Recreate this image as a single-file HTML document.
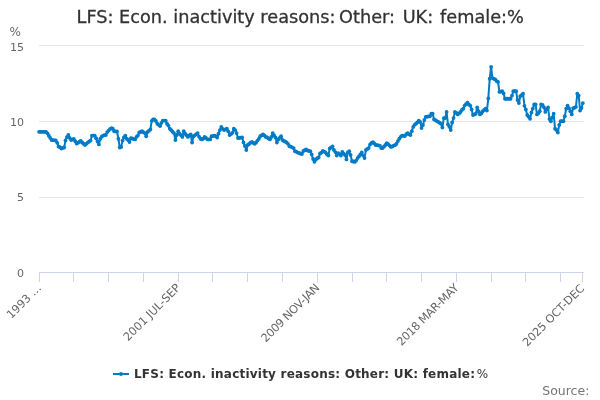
<!DOCTYPE html>
<html><head><meta charset="utf-8"><title>LFS chart</title>
<style>
html,body{margin:0;padding:0;background:#fff;}
body{width:600px;height:400px;overflow:hidden;font-family:"DejaVu Sans", "Liberation Sans", Verdana, sans-serif;}
svg{display:block;will-change:transform;font-family:"DejaVu Sans", "Liberation Sans", Verdana, sans-serif;}
</style></head><body>
<svg width="600" height="400" viewBox="0 0 600 400">
<rect width="600" height="400" fill="#fff"/>
<g stroke="#e6e6e6" stroke-width="1" fill="none">
<path d="M39 45.5H584M39 121.5H584M39 197.5H584"/>
</g>
<path d="M39 272.5H584" stroke="#ccd6eb" stroke-width="1" fill="none"/>
<path d="M39.5 272 V282M73.5 272 V282M108.5 272 V282M143.5 272 V282M178.5 272 V282M212.5 272 V282M247.5 272 V282M282.5 272 V282M317.5 272 V282M352.5 272 V282M386.5 272 V282M421.5 272 V282M456.5 272 V282M491.5 272 V282M525.5 272 V282M560.5 272 V282M582.5 272 V282" stroke="#ccd6eb" stroke-width="1" fill="none"/>
<text x="300.2" y="23.3" text-anchor="middle" font-size="17.72" fill="#333" stroke="#333" stroke-width="0.3">LFS: Econ. inactivity reasons: <tspan dx="-2">Other:</tspan> <tspan dx="2">UK:</tspan> <tspan dx="1.2">female:%</tspan></text>
<text x="9.4" y="36" font-size="12" fill="#666">%</text>
<g font-size="11" fill="#666" text-anchor="end">
<text x="24" y="51">15</text><text x="24" y="126.2">10</text><text x="24" y="201.2">5</text><text x="24" y="277.3">0</text>
</g>
<text x="42.1" y="288.4" text-anchor="end" transform="rotate(-45 42.1 288.4)" font-size="11.3" fill="#666">1993 …</text><text x="181.2" y="288.4" text-anchor="end" transform="rotate(-45 181.2 288.4)" font-size="11.3" fill="#666">2001 JUL-SEP</text><text x="320.2" y="288.4" text-anchor="end" transform="rotate(-45 320.2 288.4)" font-size="11.3" fill="#666" textLength="76.9" lengthAdjust="spacing">2009 NOV-JAN</text><text x="459.3" y="288.4" text-anchor="end" transform="rotate(-45 459.3 288.4)" font-size="11.3" fill="#666" textLength="81.8" lengthAdjust="spacing">2018 MAR-MAY</text><text x="585.0" y="289.2" text-anchor="end" transform="rotate(-45 585.0 289.2)" font-size="11.3" fill="#666" textLength="81.6" lengthAdjust="spacing">2025 OCT-DEC</text>
<g>
<path d="M39.1 131.8 L40.49 131.8 L41.88 131.8 L43.27 131.8 L44.66 131.8 L46.05 131.8 L47.44 133.35 L48.83 135.63 L50.23 137.91 L51.62 140 L53.01 140.17 L54.4 140.32 L55.79 140.5 L57.18 142.86 L58.57 146.5 L59.96 147.27 L61.35 148.5 L62.74 147.88 L64.13 147.5 L65.52 140.5 L66.91 137.12 L68.3 135 L69.7 137.96 L71.09 140 L72.48 139.41 L73.87 139 L75.26 141.26 L76.65 143.5 L78.04 142.76 L79.43 141.76 L80.82 141 L82.21 142.52 L83.6 143.76 L84.99 145 L86.38 143.79 L87.77 142.57 L89.17 141.5 L90.56 140.6 L91.95 135.6 L93.34 135.6 L94.73 135.6 L96.12 138.23 L97.51 141.49 L98.9 144.4 L100.29 138.75 L101.68 136.63 L103.07 135.6 L104.46 135.22 L105.85 135 L107.24 132.11 L108.63 130.6 L110.03 129.07 L111.42 128.1 L112.81 128.75 L114.2 131.25 L115.59 131.4 L116.98 131.5 L118.37 138.75 L119.76 147.5 L121.15 146.9 L122.54 140.6 L123.93 137.42 L125.32 135.6 L126.71 138.74 L128.1 140 L129.5 142.1 L130.89 138.1 L132.28 138.52 L133.67 139.1 L135.06 139.4 L136.45 136.89 L137.84 135.6 L139.23 132.5 L140.62 132.01 L142.01 131.25 L143.4 132.13 L144.79 133.1 L146.18 136.25 L147.57 131.9 L148.97 130.76 L150.36 129.4 L151.75 120.89 L153.14 119.4 L154.53 119.4 L155.92 121.0 L157.31 123.75 L158.7 124.83 L160.09 126.0 L161.48 122.8 L162.87 120.6 L164.26 120.6 L165.65 120.6 L167.04 123.75 L168.44 125.62 L169.83 128.75 L171.22 130.16 L172.61 131.77 L174.0 133.1 L175.39 140 L176.78 135 L178.17 131.25 L179.56 133.75 L180.95 135.08 L182.34 136.9 L183.73 131.25 L185.12 133.75 L186.51 135.27 L187.9 136.9 L189.3 135.45 L190.69 134.4 L192.08 142.5 L193.47 136.25 L194.86 135.32 L196.25 134.15 L197.64 133.1 L199.03 136.56 L200.42 138.75 L201.81 139.4 L203.2 138.7 L204.59 136.9 L205.98 137.88 L207.37 139.4 L208.77 139.4 L210.16 139.4 L211.55 136.25 L212.94 136.03 L214.33 135.6 L215.72 136.21 L217.11 137.5 L218.5 133.75 L219.89 130.11 L221.28 126.9 L222.67 128.83 L224.06 130 L225.45 129.32 L226.84 128.75 L228.24 131.44 L229.63 135 L231.02 134.11 L232.41 132.8 L233.8 128.75 L235.19 130.12 L236.58 133.1 L237.97 138.1 L239.36 137.9 L240.75 137.68 L242.14 137.5 L243.53 142.5 L244.92 146.02 L246.31 150 L247.71 145 L249.1 144.02 L250.49 142.65 L251.88 141.9 L253.27 142.9 L254.66 143.75 L256.05 142.68 L257.44 140.6 L258.83 138.93 L260.22 136.25 L261.61 135.29 L263.0 134.4 L264.39 135.43 L265.78 136.9 L267.17 137.52 L268.57 138.44 L269.96 139.4 L271.35 136.9 L272.74 133.1 L274.13 135.48 L275.52 137.5 L276.91 142.5 L278.3 139.4 L279.69 137.8 L281.08 136.25 L282.47 140 L283.86 140.98 L285.25 141.68 L286.64 142.5 L288.04 143.87 L289.43 146.25 L290.82 146.65 L292.21 147.34 L293.6 148.1 L294.99 151.25 L296.38 151.72 L297.77 152.56 L299.16 153 L300.55 153.68 L301.94 154 L303.33 151 L304.72 150.27 L306.11 149.5 L307.51 150.4 L308.9 151 L310.29 151.2 L311.68 154.5 L313.07 159 L314.46 161.8 L315.85 159.5 L317.24 158.26 L318.63 157.5 L320.02 153.5 L321.41 152.59 L322.8 151 L324.19 151.72 L325.58 152.5 L326.97 154.27 L328.37 155.5 L329.76 148.4 L331.15 147.43 L332.54 146.4 L333.93 150 L335.32 152.06 L336.71 155.6 L338.1 153.1 L339.49 154.1 L340.88 155.6 L342.27 151.9 L343.66 153.66 L345.05 155 L346.44 159.4 L347.84 152.5 L349.23 151.25 L350.62 155 L352.01 161.25 L353.4 161.48 L354.79 161.9 L356.18 160.45 L357.57 158.1 L358.96 156.42 L360.35 154.4 L361.74 152.5 L363.13 155.6 L364.52 158.1 L365.91 150 L367.31 148.92 L368.7 148.1 L370.09 144.4 L371.48 142.91 L372.87 142.1 L374.26 143.42 L375.65 145 L377.04 145.15 L378.43 145.42 L379.82 145.6 L381.21 148.1 L382.6 148.1 L383.99 146.64 L385.38 145 L386.78 143.1 L388.17 144.16 L389.56 145.6 L390.95 146.9 L392.34 146.45 L393.73 145.6 L395.12 145.07 L396.51 143.75 L397.9 141.05 L399.29 138.75 L400.68 136.82 L402.07 135.6 L403.46 135.85 L404.85 136 L406.24 134.27 L407.64 133.1 L409.03 134.26 L410.42 135 L411.81 131.25 L413.2 126.9 L414.59 124.87 L415.98 123.75 L417.37 122.28 L418.76 120.6 L420.15 121.88 L421.54 128.1 L422.93 125 L424.32 120 L425.71 116.9 L427.11 116.68 L428.5 116.47 L429.89 116.25 L431.28 113.75 L432.67 113.75 L434.06 119.4 L435.45 120.11 L436.84 121.05 L438.23 121.9 L439.62 122.73 L441.01 123.75 L442.4 127.5 L443.79 118.1 L445.18 118.1 L446.58 111.9 L447.97 124.4 L449.36 126.83 L450.75 130 L452.14 122.5 L453.53 118.1 L454.92 111.9 L456.31 112.96 L457.7 114.4 L459.09 113.41 L460.48 112.02 L461.87 110 L463.26 108.66 L464.65 105.6 L466.04 104.03 L467.44 102.75 L468.83 104.52 L470.22 105.6 L471.61 109.4 L473.0 115 L474.39 114.47 L475.78 113.75 L477.17 107.5 L478.56 111.25 L479.95 114.4 L481.34 113.46 L482.73 111.25 L484.12 109.9 L485.51 108.75 L486.91 110.6 L488.3 98.4 L489.69 78.75 L491.08 66.9 L492.47 78.1 L493.86 78.81 L495.25 79.4 L496.64 81.04 L498.03 81.9 L499.42 91.9 L500.81 91.6 L502.2 91.25 L503.59 93.41 L504.98 98.75 L506.38 98.75 L507.77 98.75 L509.16 98.75 L510.55 98.75 L511.94 95.6 L513.33 91.25 L514.72 91.25 L516.11 91.25 L517.5 100 L518.89 103.0 L520.28 96.25 L521.67 95.18 L523.06 93.75 L524.45 105.81 L525.85 109.4 L527.24 115 L528.63 116.69 L530.02 118.75 L531.41 112.5 L532.8 108.57 L534.19 104.4 L535.58 104.4 L536.97 114.4 L538.36 113.13 L539.75 111.25 L541.14 104.4 L542.53 105 L543.92 107.27 L545.31 111.9 L546.71 109.34 L548.1 107.5 L549.49 119.03 L550.88 121.25 L552.27 117.5 L553.66 113.75 L555.05 128.75 L556.44 130.01 L557.83 132.5 L559.22 125 L560.61 121.25 L562.0 121.25 L563.39 121.25 L564.78 116.25 L566.18 108.75 L567.57 105.6 L568.96 108.15 L570.35 111.25 L571.74 114.4 L573.13 108.1 L574.52 107.73 L575.91 106.9 L577.3 93.75 L578.69 95.57 L580.08 110.6 L581.47 107.98 L582.86 103.1" fill="none" stroke="#007bc6" stroke-width="2" stroke-linejoin="round" stroke-linecap="round"/>
<g fill="#007bc6"><circle cx="39.1" cy="131.8" r="1.9"/><circle cx="40.49" cy="131.8" r="1.9"/><circle cx="41.88" cy="131.8" r="1.9"/><circle cx="43.27" cy="131.8" r="1.9"/><circle cx="44.66" cy="131.8" r="1.9"/><circle cx="46.05" cy="131.8" r="1.9"/><circle cx="47.44" cy="133.35" r="1.9"/><circle cx="48.83" cy="135.63" r="1.9"/><circle cx="50.23" cy="137.91" r="1.9"/><circle cx="51.62" cy="140" r="1.9"/><circle cx="53.01" cy="140.17" r="1.9"/><circle cx="54.4" cy="140.32" r="1.9"/><circle cx="55.79" cy="140.5" r="1.9"/><circle cx="57.18" cy="142.86" r="1.9"/><circle cx="58.57" cy="146.5" r="1.9"/><circle cx="59.96" cy="147.27" r="1.9"/><circle cx="61.35" cy="148.5" r="1.9"/><circle cx="62.74" cy="147.88" r="1.9"/><circle cx="64.13" cy="147.5" r="1.9"/><circle cx="65.52" cy="140.5" r="1.9"/><circle cx="66.91" cy="137.12" r="1.9"/><circle cx="68.3" cy="135" r="1.9"/><circle cx="69.7" cy="137.96" r="1.9"/><circle cx="71.09" cy="140" r="1.9"/><circle cx="72.48" cy="139.41" r="1.9"/><circle cx="73.87" cy="139" r="1.9"/><circle cx="75.26" cy="141.26" r="1.9"/><circle cx="76.65" cy="143.5" r="1.9"/><circle cx="78.04" cy="142.76" r="1.9"/><circle cx="79.43" cy="141.76" r="1.9"/><circle cx="80.82" cy="141" r="1.9"/><circle cx="82.21" cy="142.52" r="1.9"/><circle cx="83.6" cy="143.76" r="1.9"/><circle cx="84.99" cy="145" r="1.9"/><circle cx="86.38" cy="143.79" r="1.9"/><circle cx="87.77" cy="142.57" r="1.9"/><circle cx="89.17" cy="141.5" r="1.9"/><circle cx="90.56" cy="140.6" r="1.9"/><circle cx="91.95" cy="135.6" r="1.9"/><circle cx="93.34" cy="135.6" r="1.9"/><circle cx="94.73" cy="135.6" r="1.9"/><circle cx="96.12" cy="138.23" r="1.9"/><circle cx="97.51" cy="141.49" r="1.9"/><circle cx="98.9" cy="144.4" r="1.9"/><circle cx="100.29" cy="138.75" r="1.9"/><circle cx="101.68" cy="136.63" r="1.9"/><circle cx="103.07" cy="135.6" r="1.9"/><circle cx="104.46" cy="135.22" r="1.9"/><circle cx="105.85" cy="135" r="1.9"/><circle cx="107.24" cy="132.11" r="1.9"/><circle cx="108.63" cy="130.6" r="1.9"/><circle cx="110.03" cy="129.07" r="1.9"/><circle cx="111.42" cy="128.1" r="1.9"/><circle cx="112.81" cy="128.75" r="1.9"/><circle cx="114.2" cy="131.25" r="1.9"/><circle cx="115.59" cy="131.4" r="1.9"/><circle cx="116.98" cy="131.5" r="1.9"/><circle cx="118.37" cy="138.75" r="1.9"/><circle cx="119.76" cy="147.5" r="1.9"/><circle cx="121.15" cy="146.9" r="1.9"/><circle cx="122.54" cy="140.6" r="1.9"/><circle cx="123.93" cy="137.42" r="1.9"/><circle cx="125.32" cy="135.6" r="1.9"/><circle cx="126.71" cy="138.74" r="1.9"/><circle cx="128.1" cy="140" r="1.9"/><circle cx="129.5" cy="142.1" r="1.9"/><circle cx="130.89" cy="138.1" r="1.9"/><circle cx="132.28" cy="138.52" r="1.9"/><circle cx="133.67" cy="139.1" r="1.9"/><circle cx="135.06" cy="139.4" r="1.9"/><circle cx="136.45" cy="136.89" r="1.9"/><circle cx="137.84" cy="135.6" r="1.9"/><circle cx="139.23" cy="132.5" r="1.9"/><circle cx="140.62" cy="132.01" r="1.9"/><circle cx="142.01" cy="131.25" r="1.9"/><circle cx="143.4" cy="132.13" r="1.9"/><circle cx="144.79" cy="133.1" r="1.9"/><circle cx="146.18" cy="136.25" r="1.9"/><circle cx="147.57" cy="131.9" r="1.9"/><circle cx="148.97" cy="130.76" r="1.9"/><circle cx="150.36" cy="129.4" r="1.9"/><circle cx="151.75" cy="120.89" r="1.9"/><circle cx="153.14" cy="119.4" r="1.9"/><circle cx="154.53" cy="119.4" r="1.9"/><circle cx="155.92" cy="121.0" r="1.9"/><circle cx="157.31" cy="123.75" r="1.9"/><circle cx="158.7" cy="124.83" r="1.9"/><circle cx="160.09" cy="126.0" r="1.9"/><circle cx="161.48" cy="122.8" r="1.9"/><circle cx="162.87" cy="120.6" r="1.9"/><circle cx="164.26" cy="120.6" r="1.9"/><circle cx="165.65" cy="120.6" r="1.9"/><circle cx="167.04" cy="123.75" r="1.9"/><circle cx="168.44" cy="125.62" r="1.9"/><circle cx="169.83" cy="128.75" r="1.9"/><circle cx="171.22" cy="130.16" r="1.9"/><circle cx="172.61" cy="131.77" r="1.9"/><circle cx="174.0" cy="133.1" r="1.9"/><circle cx="175.39" cy="140" r="1.9"/><circle cx="176.78" cy="135" r="1.9"/><circle cx="178.17" cy="131.25" r="1.9"/><circle cx="179.56" cy="133.75" r="1.9"/><circle cx="180.95" cy="135.08" r="1.9"/><circle cx="182.34" cy="136.9" r="1.9"/><circle cx="183.73" cy="131.25" r="1.9"/><circle cx="185.12" cy="133.75" r="1.9"/><circle cx="186.51" cy="135.27" r="1.9"/><circle cx="187.9" cy="136.9" r="1.9"/><circle cx="189.3" cy="135.45" r="1.9"/><circle cx="190.69" cy="134.4" r="1.9"/><circle cx="192.08" cy="142.5" r="1.9"/><circle cx="193.47" cy="136.25" r="1.9"/><circle cx="194.86" cy="135.32" r="1.9"/><circle cx="196.25" cy="134.15" r="1.9"/><circle cx="197.64" cy="133.1" r="1.9"/><circle cx="199.03" cy="136.56" r="1.9"/><circle cx="200.42" cy="138.75" r="1.9"/><circle cx="201.81" cy="139.4" r="1.9"/><circle cx="203.2" cy="138.7" r="1.9"/><circle cx="204.59" cy="136.9" r="1.9"/><circle cx="205.98" cy="137.88" r="1.9"/><circle cx="207.37" cy="139.4" r="1.9"/><circle cx="208.77" cy="139.4" r="1.9"/><circle cx="210.16" cy="139.4" r="1.9"/><circle cx="211.55" cy="136.25" r="1.9"/><circle cx="212.94" cy="136.03" r="1.9"/><circle cx="214.33" cy="135.6" r="1.9"/><circle cx="215.72" cy="136.21" r="1.9"/><circle cx="217.11" cy="137.5" r="1.9"/><circle cx="218.5" cy="133.75" r="1.9"/><circle cx="219.89" cy="130.11" r="1.9"/><circle cx="221.28" cy="126.9" r="1.9"/><circle cx="222.67" cy="128.83" r="1.9"/><circle cx="224.06" cy="130" r="1.9"/><circle cx="225.45" cy="129.32" r="1.9"/><circle cx="226.84" cy="128.75" r="1.9"/><circle cx="228.24" cy="131.44" r="1.9"/><circle cx="229.63" cy="135" r="1.9"/><circle cx="231.02" cy="134.11" r="1.9"/><circle cx="232.41" cy="132.8" r="1.9"/><circle cx="233.8" cy="128.75" r="1.9"/><circle cx="235.19" cy="130.12" r="1.9"/><circle cx="236.58" cy="133.1" r="1.9"/><circle cx="237.97" cy="138.1" r="1.9"/><circle cx="239.36" cy="137.9" r="1.9"/><circle cx="240.75" cy="137.68" r="1.9"/><circle cx="242.14" cy="137.5" r="1.9"/><circle cx="243.53" cy="142.5" r="1.9"/><circle cx="244.92" cy="146.02" r="1.9"/><circle cx="246.31" cy="150" r="1.9"/><circle cx="247.71" cy="145" r="1.9"/><circle cx="249.1" cy="144.02" r="1.9"/><circle cx="250.49" cy="142.65" r="1.9"/><circle cx="251.88" cy="141.9" r="1.9"/><circle cx="253.27" cy="142.9" r="1.9"/><circle cx="254.66" cy="143.75" r="1.9"/><circle cx="256.05" cy="142.68" r="1.9"/><circle cx="257.44" cy="140.6" r="1.9"/><circle cx="258.83" cy="138.93" r="1.9"/><circle cx="260.22" cy="136.25" r="1.9"/><circle cx="261.61" cy="135.29" r="1.9"/><circle cx="263.0" cy="134.4" r="1.9"/><circle cx="264.39" cy="135.43" r="1.9"/><circle cx="265.78" cy="136.9" r="1.9"/><circle cx="267.17" cy="137.52" r="1.9"/><circle cx="268.57" cy="138.44" r="1.9"/><circle cx="269.96" cy="139.4" r="1.9"/><circle cx="271.35" cy="136.9" r="1.9"/><circle cx="272.74" cy="133.1" r="1.9"/><circle cx="274.13" cy="135.48" r="1.9"/><circle cx="275.52" cy="137.5" r="1.9"/><circle cx="276.91" cy="142.5" r="1.9"/><circle cx="278.3" cy="139.4" r="1.9"/><circle cx="279.69" cy="137.8" r="1.9"/><circle cx="281.08" cy="136.25" r="1.9"/><circle cx="282.47" cy="140" r="1.9"/><circle cx="283.86" cy="140.98" r="1.9"/><circle cx="285.25" cy="141.68" r="1.9"/><circle cx="286.64" cy="142.5" r="1.9"/><circle cx="288.04" cy="143.87" r="1.9"/><circle cx="289.43" cy="146.25" r="1.9"/><circle cx="290.82" cy="146.65" r="1.9"/><circle cx="292.21" cy="147.34" r="1.9"/><circle cx="293.6" cy="148.1" r="1.9"/><circle cx="294.99" cy="151.25" r="1.9"/><circle cx="296.38" cy="151.72" r="1.9"/><circle cx="297.77" cy="152.56" r="1.9"/><circle cx="299.16" cy="153" r="1.9"/><circle cx="300.55" cy="153.68" r="1.9"/><circle cx="301.94" cy="154" r="1.9"/><circle cx="303.33" cy="151" r="1.9"/><circle cx="304.72" cy="150.27" r="1.9"/><circle cx="306.11" cy="149.5" r="1.9"/><circle cx="307.51" cy="150.4" r="1.9"/><circle cx="308.9" cy="151" r="1.9"/><circle cx="310.29" cy="151.2" r="1.9"/><circle cx="311.68" cy="154.5" r="1.9"/><circle cx="313.07" cy="159" r="1.9"/><circle cx="314.46" cy="161.8" r="1.9"/><circle cx="315.85" cy="159.5" r="1.9"/><circle cx="317.24" cy="158.26" r="1.9"/><circle cx="318.63" cy="157.5" r="1.9"/><circle cx="320.02" cy="153.5" r="1.9"/><circle cx="321.41" cy="152.59" r="1.9"/><circle cx="322.8" cy="151" r="1.9"/><circle cx="324.19" cy="151.72" r="1.9"/><circle cx="325.58" cy="152.5" r="1.9"/><circle cx="326.97" cy="154.27" r="1.9"/><circle cx="328.37" cy="155.5" r="1.9"/><circle cx="329.76" cy="148.4" r="1.9"/><circle cx="331.15" cy="147.43" r="1.9"/><circle cx="332.54" cy="146.4" r="1.9"/><circle cx="333.93" cy="150" r="1.9"/><circle cx="335.32" cy="152.06" r="1.9"/><circle cx="336.71" cy="155.6" r="1.9"/><circle cx="338.1" cy="153.1" r="1.9"/><circle cx="339.49" cy="154.1" r="1.9"/><circle cx="340.88" cy="155.6" r="1.9"/><circle cx="342.27" cy="151.9" r="1.9"/><circle cx="343.66" cy="153.66" r="1.9"/><circle cx="345.05" cy="155" r="1.9"/><circle cx="346.44" cy="159.4" r="1.9"/><circle cx="347.84" cy="152.5" r="1.9"/><circle cx="349.23" cy="151.25" r="1.9"/><circle cx="350.62" cy="155" r="1.9"/><circle cx="352.01" cy="161.25" r="1.9"/><circle cx="353.4" cy="161.48" r="1.9"/><circle cx="354.79" cy="161.9" r="1.9"/><circle cx="356.18" cy="160.45" r="1.9"/><circle cx="357.57" cy="158.1" r="1.9"/><circle cx="358.96" cy="156.42" r="1.9"/><circle cx="360.35" cy="154.4" r="1.9"/><circle cx="361.74" cy="152.5" r="1.9"/><circle cx="363.13" cy="155.6" r="1.9"/><circle cx="364.52" cy="158.1" r="1.9"/><circle cx="365.91" cy="150" r="1.9"/><circle cx="367.31" cy="148.92" r="1.9"/><circle cx="368.7" cy="148.1" r="1.9"/><circle cx="370.09" cy="144.4" r="1.9"/><circle cx="371.48" cy="142.91" r="1.9"/><circle cx="372.87" cy="142.1" r="1.9"/><circle cx="374.26" cy="143.42" r="1.9"/><circle cx="375.65" cy="145" r="1.9"/><circle cx="377.04" cy="145.15" r="1.9"/><circle cx="378.43" cy="145.42" r="1.9"/><circle cx="379.82" cy="145.6" r="1.9"/><circle cx="381.21" cy="148.1" r="1.9"/><circle cx="382.6" cy="148.1" r="1.9"/><circle cx="383.99" cy="146.64" r="1.9"/><circle cx="385.38" cy="145" r="1.9"/><circle cx="386.78" cy="143.1" r="1.9"/><circle cx="388.17" cy="144.16" r="1.9"/><circle cx="389.56" cy="145.6" r="1.9"/><circle cx="390.95" cy="146.9" r="1.9"/><circle cx="392.34" cy="146.45" r="1.9"/><circle cx="393.73" cy="145.6" r="1.9"/><circle cx="395.12" cy="145.07" r="1.9"/><circle cx="396.51" cy="143.75" r="1.9"/><circle cx="397.9" cy="141.05" r="1.9"/><circle cx="399.29" cy="138.75" r="1.9"/><circle cx="400.68" cy="136.82" r="1.9"/><circle cx="402.07" cy="135.6" r="1.9"/><circle cx="403.46" cy="135.85" r="1.9"/><circle cx="404.85" cy="136" r="1.9"/><circle cx="406.24" cy="134.27" r="1.9"/><circle cx="407.64" cy="133.1" r="1.9"/><circle cx="409.03" cy="134.26" r="1.9"/><circle cx="410.42" cy="135" r="1.9"/><circle cx="411.81" cy="131.25" r="1.9"/><circle cx="413.2" cy="126.9" r="1.9"/><circle cx="414.59" cy="124.87" r="1.9"/><circle cx="415.98" cy="123.75" r="1.9"/><circle cx="417.37" cy="122.28" r="1.9"/><circle cx="418.76" cy="120.6" r="1.9"/><circle cx="420.15" cy="121.88" r="1.9"/><circle cx="421.54" cy="128.1" r="1.9"/><circle cx="422.93" cy="125" r="1.9"/><circle cx="424.32" cy="120" r="1.9"/><circle cx="425.71" cy="116.9" r="1.9"/><circle cx="427.11" cy="116.68" r="1.9"/><circle cx="428.5" cy="116.47" r="1.9"/><circle cx="429.89" cy="116.25" r="1.9"/><circle cx="431.28" cy="113.75" r="1.9"/><circle cx="432.67" cy="113.75" r="1.9"/><circle cx="434.06" cy="119.4" r="1.9"/><circle cx="435.45" cy="120.11" r="1.9"/><circle cx="436.84" cy="121.05" r="1.9"/><circle cx="438.23" cy="121.9" r="1.9"/><circle cx="439.62" cy="122.73" r="1.9"/><circle cx="441.01" cy="123.75" r="1.9"/><circle cx="442.4" cy="127.5" r="1.9"/><circle cx="443.79" cy="118.1" r="1.9"/><circle cx="445.18" cy="118.1" r="1.9"/><circle cx="446.58" cy="111.9" r="1.9"/><circle cx="447.97" cy="124.4" r="1.9"/><circle cx="449.36" cy="126.83" r="1.9"/><circle cx="450.75" cy="130" r="1.9"/><circle cx="452.14" cy="122.5" r="1.9"/><circle cx="453.53" cy="118.1" r="1.9"/><circle cx="454.92" cy="111.9" r="1.9"/><circle cx="456.31" cy="112.96" r="1.9"/><circle cx="457.7" cy="114.4" r="1.9"/><circle cx="459.09" cy="113.41" r="1.9"/><circle cx="460.48" cy="112.02" r="1.9"/><circle cx="461.87" cy="110" r="1.9"/><circle cx="463.26" cy="108.66" r="1.9"/><circle cx="464.65" cy="105.6" r="1.9"/><circle cx="466.04" cy="104.03" r="1.9"/><circle cx="467.44" cy="102.75" r="1.9"/><circle cx="468.83" cy="104.52" r="1.9"/><circle cx="470.22" cy="105.6" r="1.9"/><circle cx="471.61" cy="109.4" r="1.9"/><circle cx="473.0" cy="115" r="1.9"/><circle cx="474.39" cy="114.47" r="1.9"/><circle cx="475.78" cy="113.75" r="1.9"/><circle cx="477.17" cy="107.5" r="1.9"/><circle cx="478.56" cy="111.25" r="1.9"/><circle cx="479.95" cy="114.4" r="1.9"/><circle cx="481.34" cy="113.46" r="1.9"/><circle cx="482.73" cy="111.25" r="1.9"/><circle cx="484.12" cy="109.9" r="1.9"/><circle cx="485.51" cy="108.75" r="1.9"/><circle cx="486.91" cy="110.6" r="1.9"/><circle cx="488.3" cy="98.4" r="1.9"/><circle cx="489.69" cy="78.75" r="1.9"/><circle cx="491.08" cy="66.9" r="1.9"/><circle cx="492.47" cy="78.1" r="1.9"/><circle cx="493.86" cy="78.81" r="1.9"/><circle cx="495.25" cy="79.4" r="1.9"/><circle cx="496.64" cy="81.04" r="1.9"/><circle cx="498.03" cy="81.9" r="1.9"/><circle cx="499.42" cy="91.9" r="1.9"/><circle cx="500.81" cy="91.6" r="1.9"/><circle cx="502.2" cy="91.25" r="1.9"/><circle cx="503.59" cy="93.41" r="1.9"/><circle cx="504.98" cy="98.75" r="1.9"/><circle cx="506.38" cy="98.75" r="1.9"/><circle cx="507.77" cy="98.75" r="1.9"/><circle cx="509.16" cy="98.75" r="1.9"/><circle cx="510.55" cy="98.75" r="1.9"/><circle cx="511.94" cy="95.6" r="1.9"/><circle cx="513.33" cy="91.25" r="1.9"/><circle cx="514.72" cy="91.25" r="1.9"/><circle cx="516.11" cy="91.25" r="1.9"/><circle cx="517.5" cy="100" r="1.9"/><circle cx="518.89" cy="103.0" r="1.9"/><circle cx="520.28" cy="96.25" r="1.9"/><circle cx="521.67" cy="95.18" r="1.9"/><circle cx="523.06" cy="93.75" r="1.9"/><circle cx="524.45" cy="105.81" r="1.9"/><circle cx="525.85" cy="109.4" r="1.9"/><circle cx="527.24" cy="115" r="1.9"/><circle cx="528.63" cy="116.69" r="1.9"/><circle cx="530.02" cy="118.75" r="1.9"/><circle cx="531.41" cy="112.5" r="1.9"/><circle cx="532.8" cy="108.57" r="1.9"/><circle cx="534.19" cy="104.4" r="1.9"/><circle cx="535.58" cy="104.4" r="1.9"/><circle cx="536.97" cy="114.4" r="1.9"/><circle cx="538.36" cy="113.13" r="1.9"/><circle cx="539.75" cy="111.25" r="1.9"/><circle cx="541.14" cy="104.4" r="1.9"/><circle cx="542.53" cy="105" r="1.9"/><circle cx="543.92" cy="107.27" r="1.9"/><circle cx="545.31" cy="111.9" r="1.9"/><circle cx="546.71" cy="109.34" r="1.9"/><circle cx="548.1" cy="107.5" r="1.9"/><circle cx="549.49" cy="119.03" r="1.9"/><circle cx="550.88" cy="121.25" r="1.9"/><circle cx="552.27" cy="117.5" r="1.9"/><circle cx="553.66" cy="113.75" r="1.9"/><circle cx="555.05" cy="128.75" r="1.9"/><circle cx="556.44" cy="130.01" r="1.9"/><circle cx="557.83" cy="132.5" r="1.9"/><circle cx="559.22" cy="125" r="1.9"/><circle cx="560.61" cy="121.25" r="1.9"/><circle cx="562.0" cy="121.25" r="1.9"/><circle cx="563.39" cy="121.25" r="1.9"/><circle cx="564.78" cy="116.25" r="1.9"/><circle cx="566.18" cy="108.75" r="1.9"/><circle cx="567.57" cy="105.6" r="1.9"/><circle cx="568.96" cy="108.15" r="1.9"/><circle cx="570.35" cy="111.25" r="1.9"/><circle cx="571.74" cy="114.4" r="1.9"/><circle cx="573.13" cy="108.1" r="1.9"/><circle cx="574.52" cy="107.73" r="1.9"/><circle cx="575.91" cy="106.9" r="1.9"/><circle cx="577.3" cy="93.75" r="1.9"/><circle cx="578.69" cy="95.57" r="1.9"/><circle cx="580.08" cy="110.6" r="1.9"/><circle cx="581.47" cy="107.98" r="1.9"/><circle cx="582.86" cy="103.1" r="1.9"/></g>
</g>
<g>
<path d="M113 374H129" stroke="#007bc6" stroke-width="2" fill="none"/>
<circle cx="121" cy="374" r="2" fill="#007bc6"/>
<text x="134" y="378" font-size="12" letter-spacing="0.22" font-weight="bold" fill="#333">LFS: Econ. inactivity reasons: Other: UK: female:<tspan font-weight="normal" dx="1.5">%</tspan></text>
</g>
<text x="589.4" y="395" text-anchor="end" font-size="12.5" fill="#757575">Source:</text>
</svg>
</body></html>
